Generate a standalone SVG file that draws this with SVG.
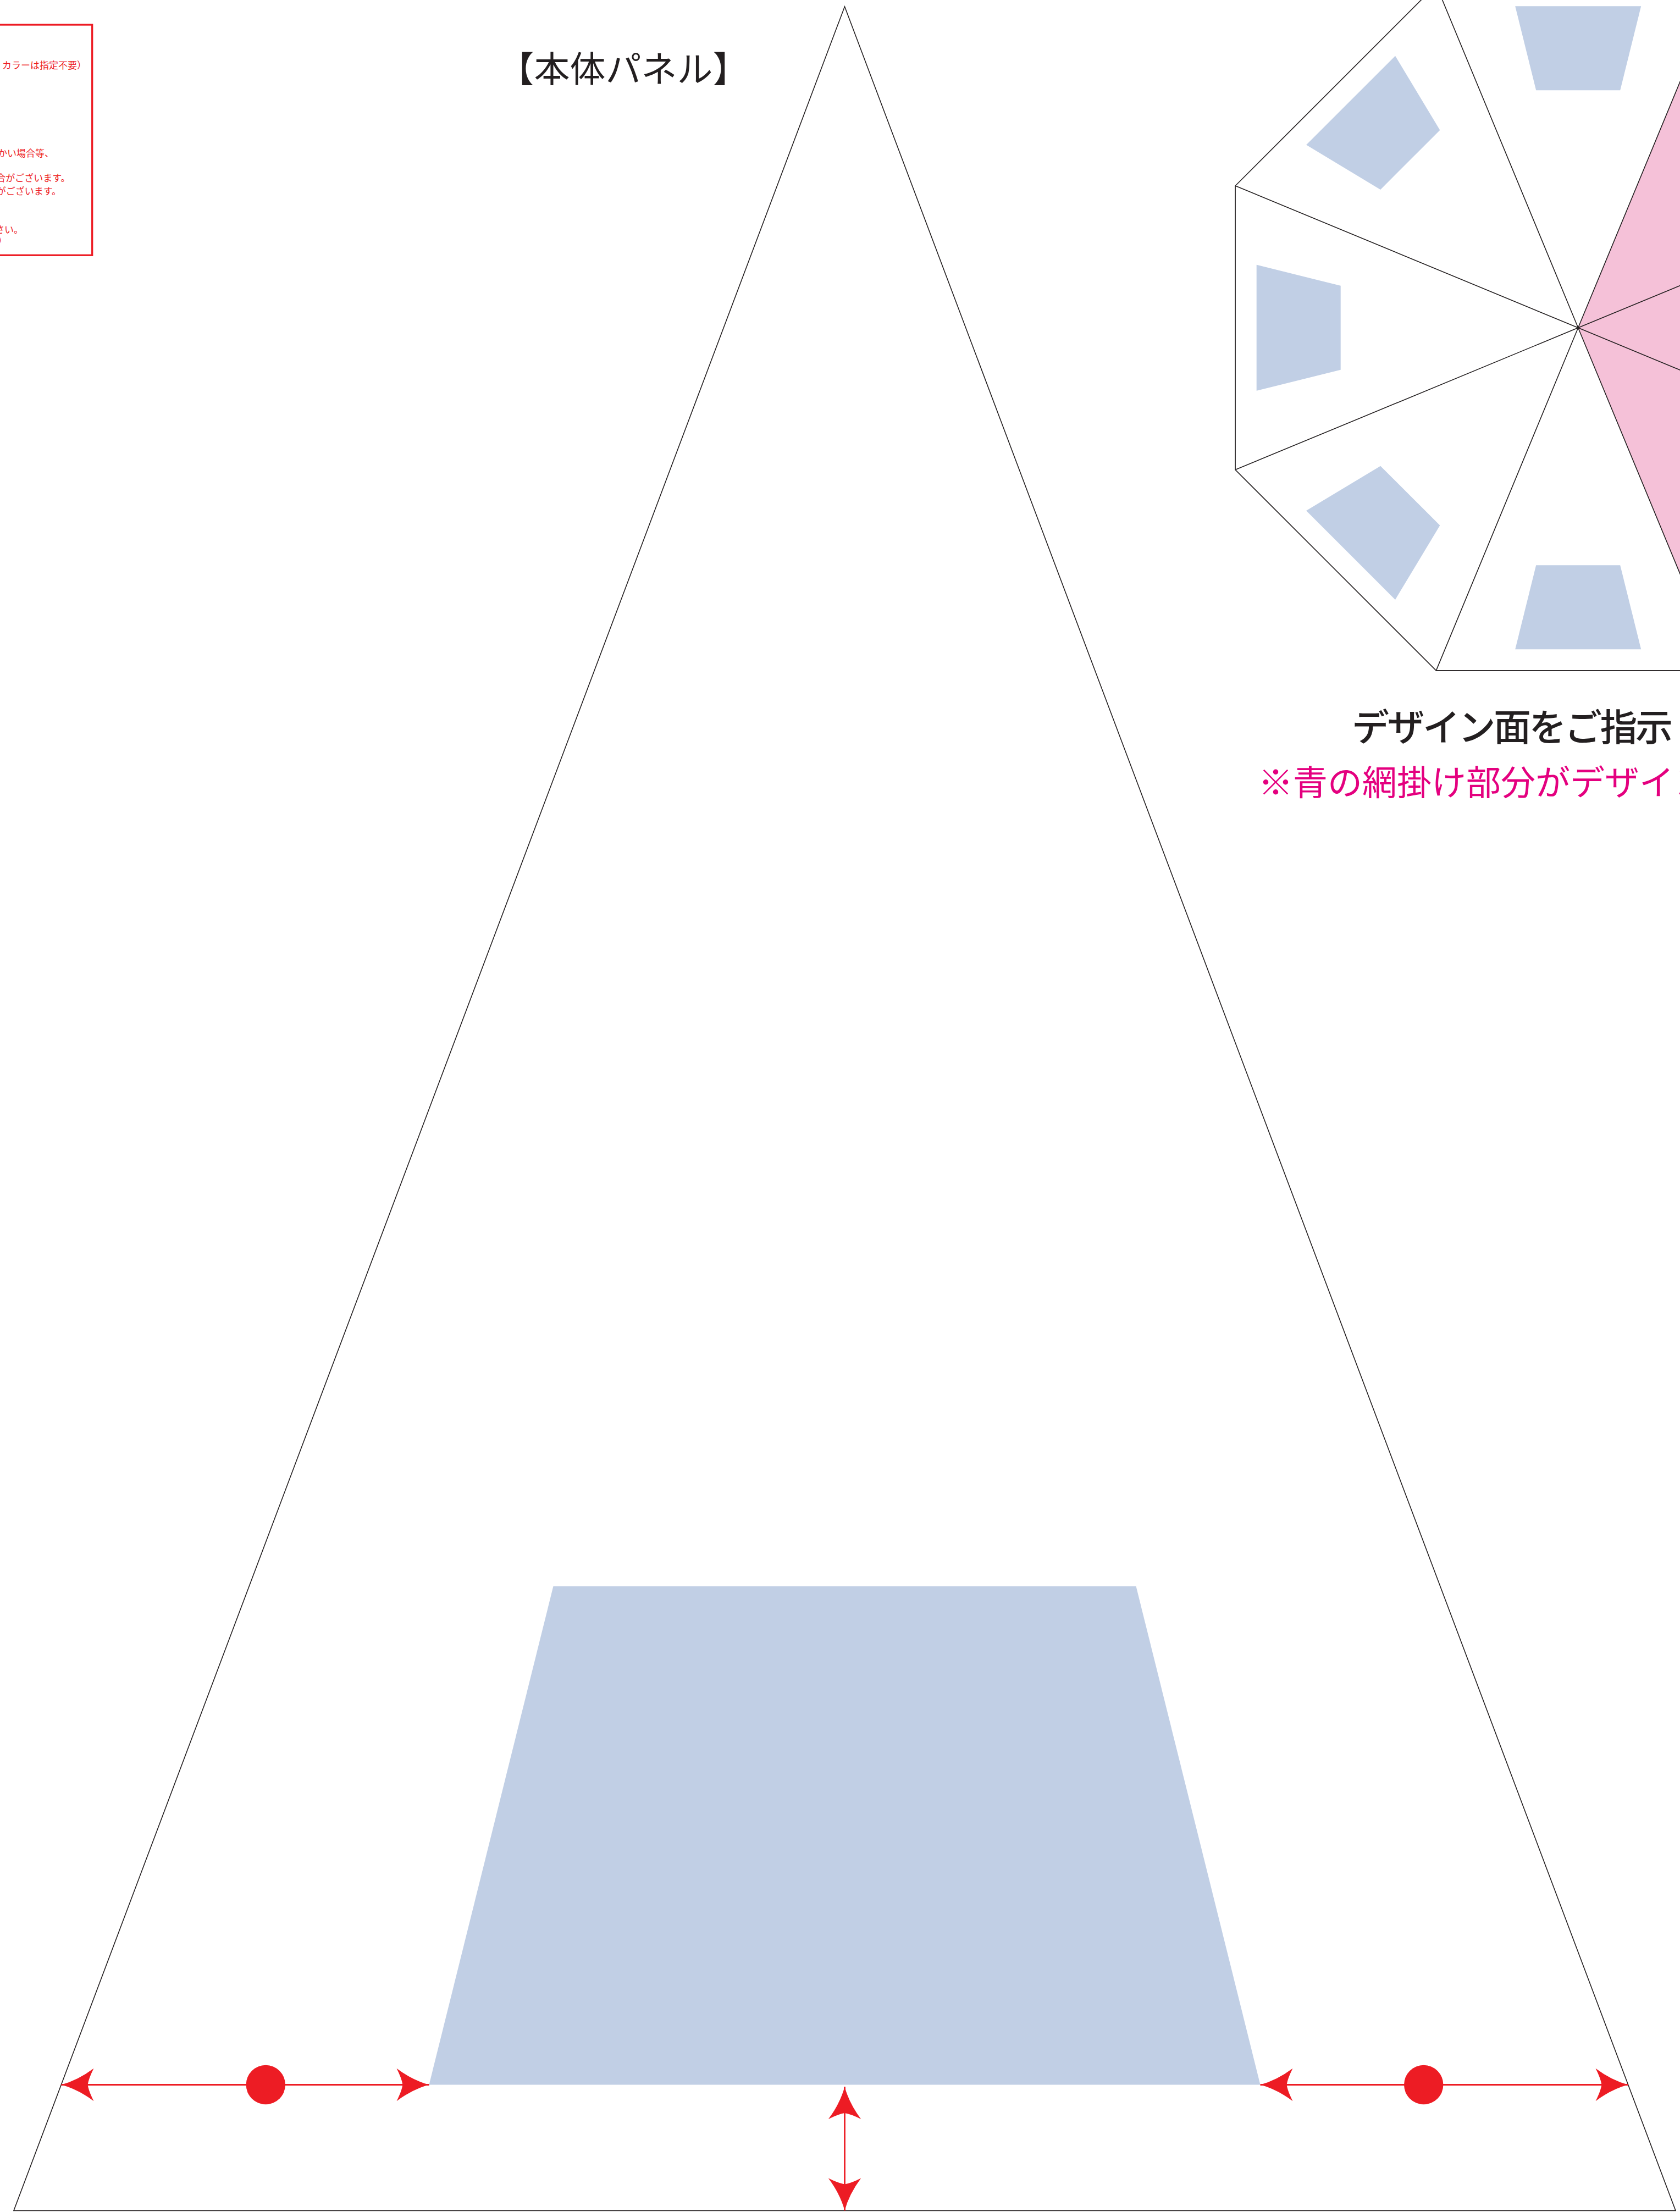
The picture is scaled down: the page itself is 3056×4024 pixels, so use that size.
<svg xmlns="http://www.w3.org/2000/svg" width="3056" height="4024" viewBox="0 0 3056 4024">
<style>
.ln{fill:none;stroke:#231f20;stroke-width:1.6;stroke-linejoin:miter}
.blue{fill:#c1cfe5}
.pink{fill:#f5c1d8}
.red{stroke:#ed1c24;stroke-width:2.8;fill:none}
.dot{fill:#ed1c24}
.jp{font-family:'Noto Sans CJK JP','Noto Sans',sans-serif}
.note{font-size:17px;fill:#ed1c24;text-anchor:end}
.title{font-size:65px;fill:#231f20;text-anchor:middle}
.head{font-size:68px;fill:#231f20;font-weight:500}
.sub{font-size:63px;fill:#e4007f;font-weight:400}
</style>
<defs>
<marker id="ah" markerUnits="userSpaceOnUse" orient="auto-start-reverse" overflow="visible" refX="0" refY="0" markerWidth="1" markerHeight="1">
<path d="M0,0 Q-30,-8 -59,-29.7 Q-50,-12 -48,0 Q-50,12 -59,29.7 Q-30,8 0,0 Z" fill="#ed1c24"/>
</marker>
<polygon id="trap" points="585,-114.5 585,114.5 432,76.5 432,-76.5"/>
</defs>
<rect width="3056" height="4024" fill="#fff"/>

<g id="notes-box">
<rect x="-30" y="45" width="197.7" height="419.3" fill="none" stroke="#ed1c24" stroke-width="3.3"/>
<text class="jp note" x="157" y="125">カラーは指定不要）</text>
<text class="jp note" x="98" y="285">かい場合等、</text>
<text class="jp note" x="127.5" y="330">合がございます。</text>
<text class="jp note" x="111" y="353.5">がございます。</text>
<text class="jp note" x="42" y="423.5">さい。</text>
<text class="jp note" x="-4" y="443.5" style="text-anchor:start">）</text>
</g>

<g id="title">
<text class="jp title" x="1134" y="148.5">【本体パネル】</text>
</g>

<g id="main-panel">
<polygon class="ln" points="1536.5,12 25,4021.5 3048,4021.5"/>
<polygon class="blue" points="1006.5,2885.5 2066.5,2885.5 2292.5,3792.5 780.5,3792.5"/>
</g>

<g id="octagon">
<g transform="translate(2870.7,596.3)">
<polygon class="pink" points="0,0 258.3,-623.6 623.6,-258.3 623.6,258.3 258.3,623.6"/>
<use href="#trap" class="blue" transform="rotate(-90)"/>
<use href="#trap" class="blue" transform="rotate(-135)"/>
<use href="#trap" class="blue" transform="rotate(180)"/>
<use href="#trap" class="blue" transform="rotate(135)"/>
<use href="#trap" class="blue" transform="rotate(90)"/>
<polygon class="ln" points="623.6,258.3 258.3,623.6 -258.3,623.6 -623.6,258.3 -623.6,-258.3 -258.3,-623.6 258.3,-623.6 623.6,-258.3"/>
<path class="ln" d="M0,0 L623.6,258.3 M0,0 L258.3,623.6 M0,0 L-258.3,623.6 M0,0 L-623.6,258.3 M0,0 L-623.6,-258.3 M0,0 L-258.3,-623.6 M0,0 L258.3,-623.6 M0,0 L623.6,-258.3"/>
</g>
</g>

<g id="captions">
<text class="jp head" x="2459" y="1348" textLength="584" lengthAdjust="spacing">デザイン面をご指示</text>
<text class="jp sub" x="2289" y="1446">※青の網掛け部分がデザイン</text>
</g>

<g id="connectors">
<line class="red" x1="111.5" y1="3792.5" x2="780.5" y2="3792.5" marker-start="url(#ah)" marker-end="url(#ah)"/>
<line class="red" x1="2292.5" y1="3792.5" x2="2961.5" y2="3792.5" marker-start="url(#ah)" marker-end="url(#ah)"/>
<line class="red" x1="1536.5" y1="3796" x2="1536.5" y2="4021.5" marker-start="url(#ah)" marker-end="url(#ah)"/>
<circle class="dot" cx="483.3" cy="3792.5" r="35.7"/>
<circle class="dot" cx="2589.7" cy="3792.5" r="35.7"/>
</g>
</svg>
